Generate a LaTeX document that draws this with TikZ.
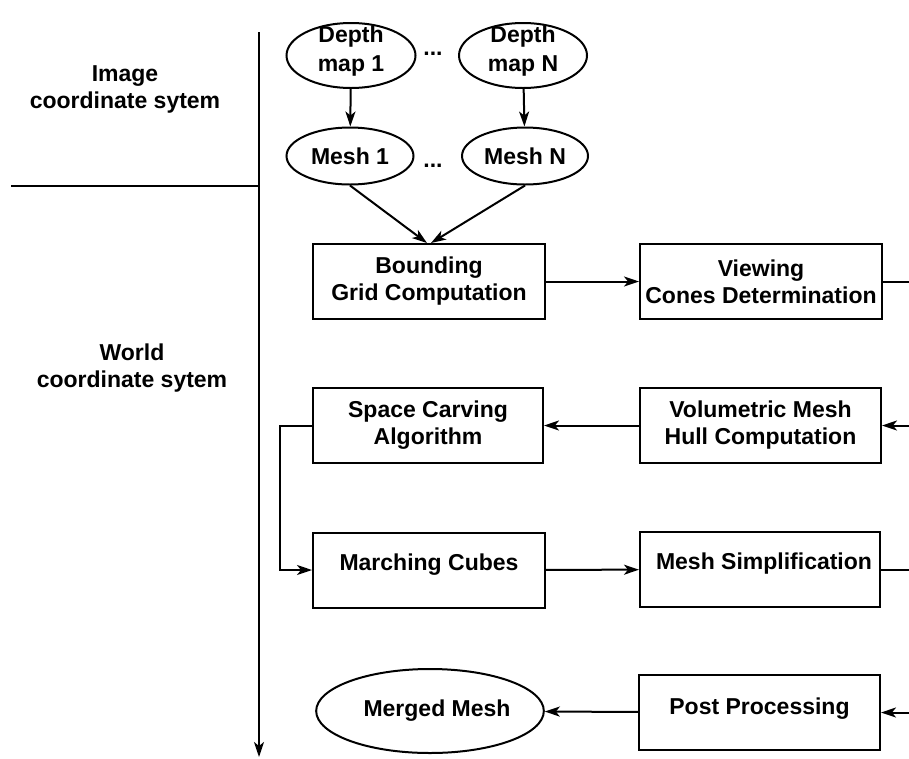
\documentclass[tikz,border=0pt]{standalone}
\usepackage{fontspec}
\setmainfont{Liberation Sans}
\usetikzlibrary{arrows.meta,shapes.geometric}
\begin{document}
\begin{tikzpicture}[x=1pt,y=-1pt, line width=2pt,
  every node/.style={font=\fontsize{23}{27}\selectfont\bfseries},
  stepbox/.style={draw, rectangle, minimum height=75pt, inner sep=0pt, align=center, fill=white},
  oval/.style={draw, ellipse, inner sep=0pt, align=center},
  plain/.style={align=center, inner sep=0pt},
  arr/.style={-{Stealth[length=15pt,width=10pt,inset=4pt]}},
  ]
\useasboundingbox (0,0) rectangle (909,758);

% axis and separator
\coordinate (axtop) at (259,32);
\coordinate (axbot) at (259,757);
\coordinate (septop) at (11,186);
\coordinate (sepend) at (259,186);
\draw[arr] (axtop) -- (axbot);
\draw (septop) -- (sepend);

\node[plain] (imglab) at (125,89) {Image\\coordinate sytem};
\node[plain] (worldlab) at (132,368) {World\\coordinate sytem};

% ellipses
\node[oval, minimum width=129pt, minimum height=65pt] (d1) at (351,55.5) {};
\node[oval, minimum width=128pt, minimum height=65pt] (dn) at (523,55.5) {};
\node[plain, font=\fontsize{23}{29}\selectfont\bfseries] (d1t) at ([yshift=4pt]d1.center) {Depth\\map 1};
\node[plain, font=\fontsize{23}{29}\selectfont\bfseries] (dnt) at ([yshift=4pt]dn.center) {Depth\\map N};
\node[oval, minimum width=127pt, minimum height=57pt] (m1) at (350,156) {Mesh 1};
\node[oval, minimum width=126pt, minimum height=57pt] (mn) at (525,156) {Mesh N};
\node[plain] (dots1) at (433,54) {...};
\node[plain] (dots2) at (433,166) {...};

% boxes
\node[stepbox, minimum width=232pt] (bg) at (429,281.5) {Bounding\\Grid Computation};
\node[stepbox, minimum width=242pt] (vc) at (761,281.5) {Viewing\\Cones Determination};
\node[stepbox, minimum width=230pt] (sc) at (428,425.5) {Space Carving\\Algorithm};
\node[stepbox, minimum width=241pt] (vm) at (760.5,425.5) {Volumetric Mesh\\Hull Computation};
\node[stepbox, minimum width=232pt, text height=16.5pt, text depth=16pt] (mc) at (429,570) {Marching Cubes};
\node[stepbox, minimum width=240pt, text height=16.5pt, text depth=16pt] (ms) at (760,569.5) {\hspace*{8pt}Mesh Simplification};
\node[stepbox, minimum width=241pt, text height=16.5pt, text depth=12pt] (pp) at (759.5,712.5) {Post Processing};
\node[oval, minimum width=206pt, minimum height=84pt] (mm) at (430,711) {\hspace*{14pt}Merged Mesh};

% connectors
\draw[arr] (d1) -- (m1);
\draw[arr] (dn) -- (mn);
\draw[arr] (m1.south) -- ([xshift=-2pt]bg.north);
\draw[arr] (mn.south) -- ([xshift=2pt]bg.north);
\draw[arr] (bg) -- (vc);
\coordinate (vcout) at (909,281.5);
\draw (vc) -- (vcout);
\coordinate (vmin) at (909,425.5);
\draw[arr] (vmin) -- (vm);
\draw[arr] (vm) -- (sc);
\coordinate (bend) at (280,425.5);
\draw[arr] (sc.west) -- (bend) |- (mc.west);
\draw[arr] (mc) -- (ms);
\coordinate (msout) at (909,569.5);
\draw (ms) -- (msout);
\coordinate (ppin) at (909,712.5);
\draw[arr] (ppin) -- (pp);
\draw[arr] (pp) -- (mm);
\end{tikzpicture}
\end{document}
